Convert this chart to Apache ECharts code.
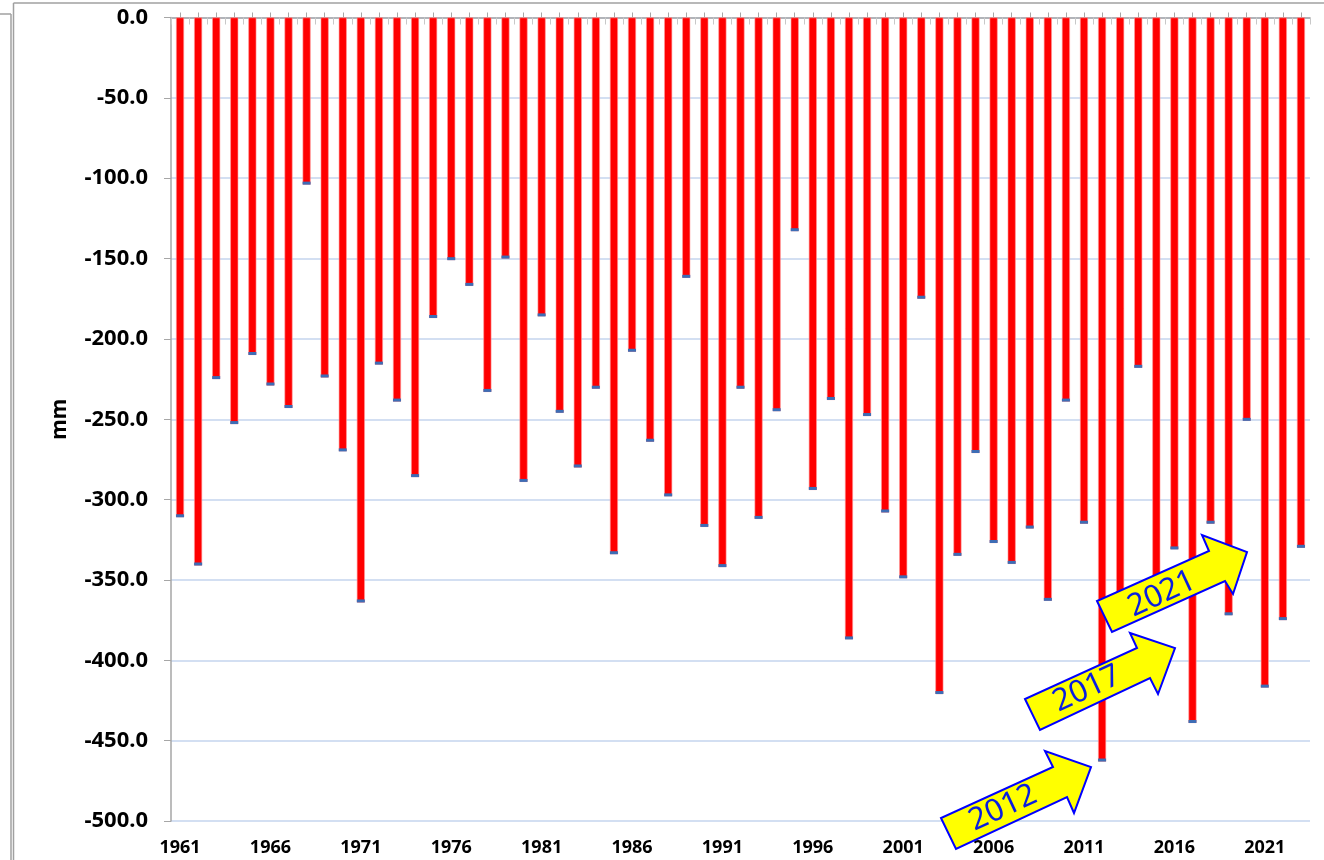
<!DOCTYPE html>
<html>
<head>
<meta charset="utf-8">
<script src="https://cdn.jsdelivr.net/npm/echarts@6/dist/echarts.min.js"></script>
<style>
  html, body { margin: 0; padding: 0; background: #fff; }
  #chart { width: 1324px; height: 860px; }
</style>
</head>
<body>
<div id="chart"></div>
<script>
// years 1961..2023
const years = [];
for (let y = 1961; y <= 2023; y++) years.push(String(y));

// values in mm
const values = [
  -311, -341, -225, -253, -210, -229, -243, -104, -224, -270,
  -364, -216, -239, -286, -187, -151, -167, -233, -150, -289,
  -186, -246, -280, -231, -334, -208, -264, -298, -162, -317,
  -342, -231, -312, -245, -133, -294, -238, -387, -248, -308,
  -349, -175, -421, -335, -271, -327, -340, -318, -363, -239,
  -315, -463, -362, -218, -358, -331, -439, -315, -372, -251,
  -417, -375, -330,
];

const yTicks = [0, -50, -100, -150, -200, -250, -300, -350, -400, -450, -500];

// highlighted years on the arrows
const arrowLabels = ['2012', '2017', '2021'];

const chart = echarts.init(document.getElementById('chart'));

const font = '"Noto Sans", "DejaVu Sans", sans-serif';
const axisGray = '#a6a6a6';

// block arrow shape (annotation, not data)
function arrow(points, label, cx, cy) {
  return [
    {
      type: 'polygon',
      shape: { points: points },
      style: { fill: '#ffff00', stroke: '#0000ff', lineWidth: 2 },
      z: 100,
    },
    {
      type: 'text',
      x: cx,
      y: cy,
      rotation: (25 * Math.PI) / 180,
      style: {
        text: label,
        fill: '#0a1ee0',
        font: '31px ' + font,
        align: 'center',
        verticalAlign: 'middle',
      },
      z: 101,
    },
  ];
}

const option = {
  animation: false,
  grid: { left: 171, right: 14, top: 17.5, bottom: 39 },
  xAxis: [
    {
      type: 'category',
      data: years,
      position: 'top',
      axisLine: { show: true, lineStyle: { color: axisGray, width: 1.5 } },
      axisTick: { show: true, alignWithLabel: true, interval: 0, length: 5, lineStyle: { color: axisGray } },
      axisLabel: { show: false },
      splitLine: { show: false },
    },
    {
      type: 'category',
      data: years,
      position: 'top',
      axisLine: { show: false },
      axisTick: { show: true, inside: true, interval: 0, length: 7, lineStyle: { color: '#c8c8c8' } },
      axisLabel: { show: false },
      splitLine: { show: false },
    },
    {
      type: 'category',
      data: years,
      position: 'bottom',
      axisLine: { show: false, onZero: false },
      axisTick: { show: false },
      axisLabel: {
        interval: 4,
        margin: 18,
        color: '#000',
        fontWeight: 'bold',
        fontSize: 18,
        fontFamily: font,
      },
      splitLine: { show: false },
    },
  ],
  yAxis: {
    type: 'value',
    min: yTicks[yTicks.length - 1],
    max: yTicks[0],
    interval: 50,
    name: 'mm',
    nameLocation: 'middle',
    nameGap: 100,
    nameRotate: 90,
    nameTextStyle: { color: '#000', fontWeight: 'bold', fontSize: 21, fontFamily: font },
    axisLine: { show: true, lineStyle: { color: axisGray, width: 1.5 } },
    axisTick: { show: true, length: 7, lineStyle: { color: axisGray } },
    axisLabel: {
      margin: 23,
      color: '#000',
      fontWeight: 'bold',
      fontSize: 22,
      fontFamily: font,
      formatter: (v) => v.toFixed(1),
    },
    splitLine: { show: true, lineStyle: { color: '#c5d4ee', width: 1.5 } },
  },
  series: [
    {
      type: 'bar',
      xAxisIndex: 0,
      data: values,
      barWidth: 8,
      itemStyle: { color: '#ff0000', borderColor: '#ff9a9a', borderWidth: 0.6 },
      z: 2,
    },
    {
      // thin blue cap at the end of every bar
      type: 'pictorialBar',
      xAxisIndex: 0,
      data: values,
      symbol: 'rect',
      symbolSize: [8, 3],
      symbolPosition: 'end',
      itemStyle: { color: '#3d6db5' },
      z: 3,
    },
  ],
  graphic: [
    // frame lines of the surrounding sheet
    { type: 'line', shape: { x1: 0, y1: 14, x2: 11, y2: 14 }, style: { stroke: '#a0a0a0', lineWidth: 1.5 } },
    { type: 'line', shape: { x1: 11, y1: 14, x2: 11, y2: 860 }, style: { stroke: '#a0a0a0', lineWidth: 1.5 } },
    { type: 'line', shape: { x1: 13.5, y1: 3, x2: 1324, y2: 3 }, style: { stroke: '#a0a0a0', lineWidth: 1.5 } },
    { type: 'line', shape: { x1: 13.5, y1: 3, x2: 13.5, y2: 860 }, style: { stroke: '#a0a0a0', lineWidth: 1.5 } },
    ...arrow(
      [[941, 818], [956, 849], [1067, 797], [1074, 813], [1091, 767], [1045, 751], [1053, 767]],
      arrowLabels[0], 1003, 808
    ),
    ...arrow(
      [[1025, 699], [1040, 730], [1150, 678], [1158, 694], [1175, 648], [1130, 633], [1137, 648]],
      arrowLabels[1], 1087, 689
    ),
    ...arrow(
      [[1097, 601], [1112, 632], [1225, 581], [1233, 594], [1247, 552], [1202, 535], [1209, 551]],
      arrowLabels[2], 1162, 594
    ),
  ],
};

chart.setOption(option);
</script>
</body>
</html>
